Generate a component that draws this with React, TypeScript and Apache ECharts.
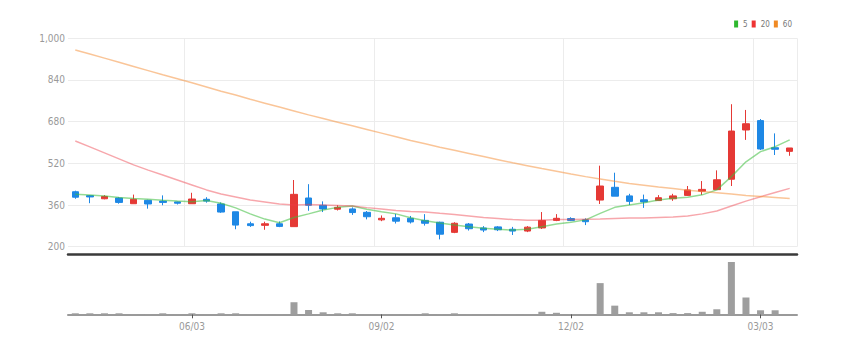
import React, { useEffect, useRef } from "react";
import * as echarts from "echarts";

const dates = [
  "04/08", "04/15", "04/22", "04/29", "05/06", "05/13", "05/20", "05/27", "06/03", "06/10",
  "06/17", "06/24", "07/01", "07/08", "07/15", "07/22", "07/29", "08/05", "08/12", "08/19",
  "08/26", "09/02", "09/09", "09/16", "09/23", "09/30", "10/07", "10/14", "10/21", "10/28",
  "11/04", "11/11", "11/18", "11/25", "12/02", "12/09", "12/16", "12/23", "12/30", "01/06",
  "01/13", "01/20", "01/27", "02/03", "02/10", "02/17", "02/24", "03/03", "03/10", "03/17",
];

// [open, close, low, high]
const candles = [
  [411, 390, 384, 415], [396, 391, 367, 398], [384, 393, 382, 398], [387, 370, 365, 390],
  [365, 382, 365, 400], [378, 364, 346, 380], [375, 370, 359, 397], [372, 367, 362, 373],
  [365, 383, 365, 407], [382, 375, 369, 390], [364, 333, 330, 370], [334, 283, 267, 334],
  [288, 281, 276, 296], [282, 288, 265, 296], [288, 278, 275, 297], [277, 401, 277, 456],
  [387, 359, 338, 440], [359, 345, 333, 374], [344, 351, 339, 359], [345, 331, 322, 351],
  [332, 315, 305, 337], [303, 309, 298, 320], [311, 298, 289, 326], [309, 295, 289, 318],
  [301, 290, 281, 325], [294, 248, 228, 296], [255, 290, 252, 294], [287, 269, 262, 291],
  [272, 264, 256, 279], [276, 265, 260, 279], [267, 260, 245, 276], [260, 275, 256, 279],
  [272, 301, 268, 333], [301, 309, 298, 325], [308, 301, 298, 313], [303, 296, 283, 309],
  [379, 433, 364, 511], [428, 394, 394, 484], [395, 374, 360, 403], [380, 372, 349, 400],
  [377, 388, 376, 398], [384, 395, 376, 403], [397, 418, 395, 433], [413, 420, 399, 452],
  [419, 457, 418, 493], [459, 644, 433, 747], [648, 672, 610, 725], [684, 575, 571, 690],
  [580, 574, 552, 635], [566, 579, 549, 579],
];

const ma5 = [
  401, 398, 395, 389, 385, 382, 378, 375, 373, 377, 367, 349, 326, 306, 292, 312, 326, 341, 351, 356,
  344, 334, 326, 311, 300, 291, 283, 277, 271, 267, 264, 267, 277, 287, 294, 303, 328, 351, 360, 369,
  379, 386, 390, 399, 418, 469, 526, 565, 584, 610,
];

const ma20 = [
  606, 583, 560, 537, 514, 494, 475, 456, 437, 418, 402, 391, 379, 372, 364, 360, 362, 360, 358, 356,
  350, 345, 339, 335, 333, 328, 324, 318, 312, 308, 304, 302, 302, 304, 304, 305, 306, 308, 310, 310,
  312, 314, 318, 326, 337, 356, 375, 392, 408, 424,
];

const ma60 = [
  955, 940, 924, 908, 892, 876, 860, 845, 829, 813, 797, 782, 766, 751, 736, 721, 706, 692, 678, 664,
  650, 636, 622, 608, 595, 582, 570, 558, 546, 534, 522, 511, 500, 490, 479, 469, 460, 451, 443, 436,
  429, 423, 417, 412, 407, 402, 397, 393, 389, 385,
];

const volumes = [
  10, 10, 10, 10, 2, 2, 10, 2, 10, 2, 10, 10, 2, 2, 2, 120, 43, 20, 10, 10,
  2, 2, 2, 2, 10, 2, 10, 2, 2, 2, 2, 2, 25, 15, 2, 2, 310, 86, 20, 20,
  20, 12, 12, 25, 50, 520, 167, 40, 40, 0,
];

const priceTicks = { min: 200, max: 1000, interval: 160 };
const FONT = "'Liberation Sans Narrow', 'DejaVu Sans Condensed', 'Roboto Condensed', sans-serif";
const showIdx = (i: number) => i % 13 === 8;

export default function App() {
  const ref = useRef<HTMLDivElement>(null);
  useEffect(() => {
    if (!ref.current) return;
    const chart = echarts.init(ref.current, undefined, { renderer: "svg" });
    chart.setOption({
      animation: false,
      textStyle: { fontFamily: FONT },
      legend: {
        data: ["5", "20", "60"],
        right: 56,
        top: 20,
        icon: "rect",
        itemWidth: 4,
        itemHeight: 7,
        itemGap: 4,
        padding: 0,
        textStyle: { fontSize: 8, color: "#777", fontFamily: FONT },
      },
      grid: [
        { left: 68, right: 51, top: 38.3, height: 208.4 },
        { left: 68, right: 51, top: 262, bottom: 39.7 },
      ],
      xAxis: [
        {
          type: "category",
          gridIndex: 0,
          data: dates,
          boundaryGap: true,
          offset: 8,
          axisLine: { show: true, lineStyle: { color: "#3a3a3a", width: 2.5 } },
          axisTick: { show: false },
          axisLabel: { show: false },
          splitLine: { show: true, interval: (i: number) => showIdx(i), lineStyle: { color: "#ececec" } },
        },
        {
          type: "category",
          gridIndex: 1,
          data: dates,
          boundaryGap: true,
          axisLine: { show: true, lineStyle: { color: "#9a9a9a", width: 2 } },
          axisTick: {
            show: true,
            alignWithLabel: true,
            interval: (i: number) => showIdx(i),
            length: 4,
            lineStyle: { color: "#555" },
          },
          axisLabel: {
            interval: (i: number) => showIdx(i),
            color: "#999",
            fontSize: 10,
            margin: 7,
            fontFamily: FONT,
          },
          splitLine: { show: false },
        },
      ],
      yAxis: [
        {
          type: "value",
          gridIndex: 0,
          min: priceTicks.min,
          max: priceTicks.max,
          interval: priceTicks.interval,
          axisLine: { show: false },
          axisTick: { show: false },
          axisLabel: {
            color: "#999",
            fontSize: 10,
            margin: 3,
            fontFamily: FONT,
            formatter: (v: number) => v.toLocaleString("en-US"),
          },
          splitLine: { show: true, lineStyle: { color: "#ececec" } },
        },
        {
          type: "value",
          gridIndex: 1,
          min: 0,
          max: 520,
          show: false,
          splitLine: { show: false },
        },
      ],
      series: [
        {
          type: "candlestick",
          xAxisIndex: 0,
          yAxisIndex: 0,
          data: candles,
          barWidth: 7,
          itemStyle: {
            color: "#e53935",
            color0: "#1e88e5",
            borderColor: "#e53935",
            borderColor0: "#1e88e5",
            borderWidth: 1,
          },
        },
        {
          name: "5",
          type: "line",
          data: ma5,
          showSymbol: false,
          itemStyle: { color: "#2eb82e" },
          lineStyle: { color: "rgba(60,190,60,0.55)", width: 1.5 },
        },
        {
          name: "20",
          type: "line",
          data: ma20,
          showSymbol: false,
          itemStyle: { color: "#ee3333" },
          lineStyle: { color: "rgba(238,60,70,0.45)", width: 1.5 },
        },
        {
          name: "60",
          type: "line",
          data: ma60,
          showSymbol: false,
          itemStyle: { color: "#f08a24" },
          lineStyle: { color: "rgba(245,140,50,0.5)", width: 1.5 },
        },
        {
          type: "bar",
          xAxisIndex: 1,
          yAxisIndex: 1,
          data: volumes,
          barWidth: 7,
          itemStyle: { color: "#9e9e9e" },
        },
      ],
    });
    return () => chart.dispose();
  }, []);
  return (
    <div
      ref={ref}
      style={{ position: "fixed", left: 0, top: 0, width: 848, height: 354, background: "#fff" }}
    />
  );
}
